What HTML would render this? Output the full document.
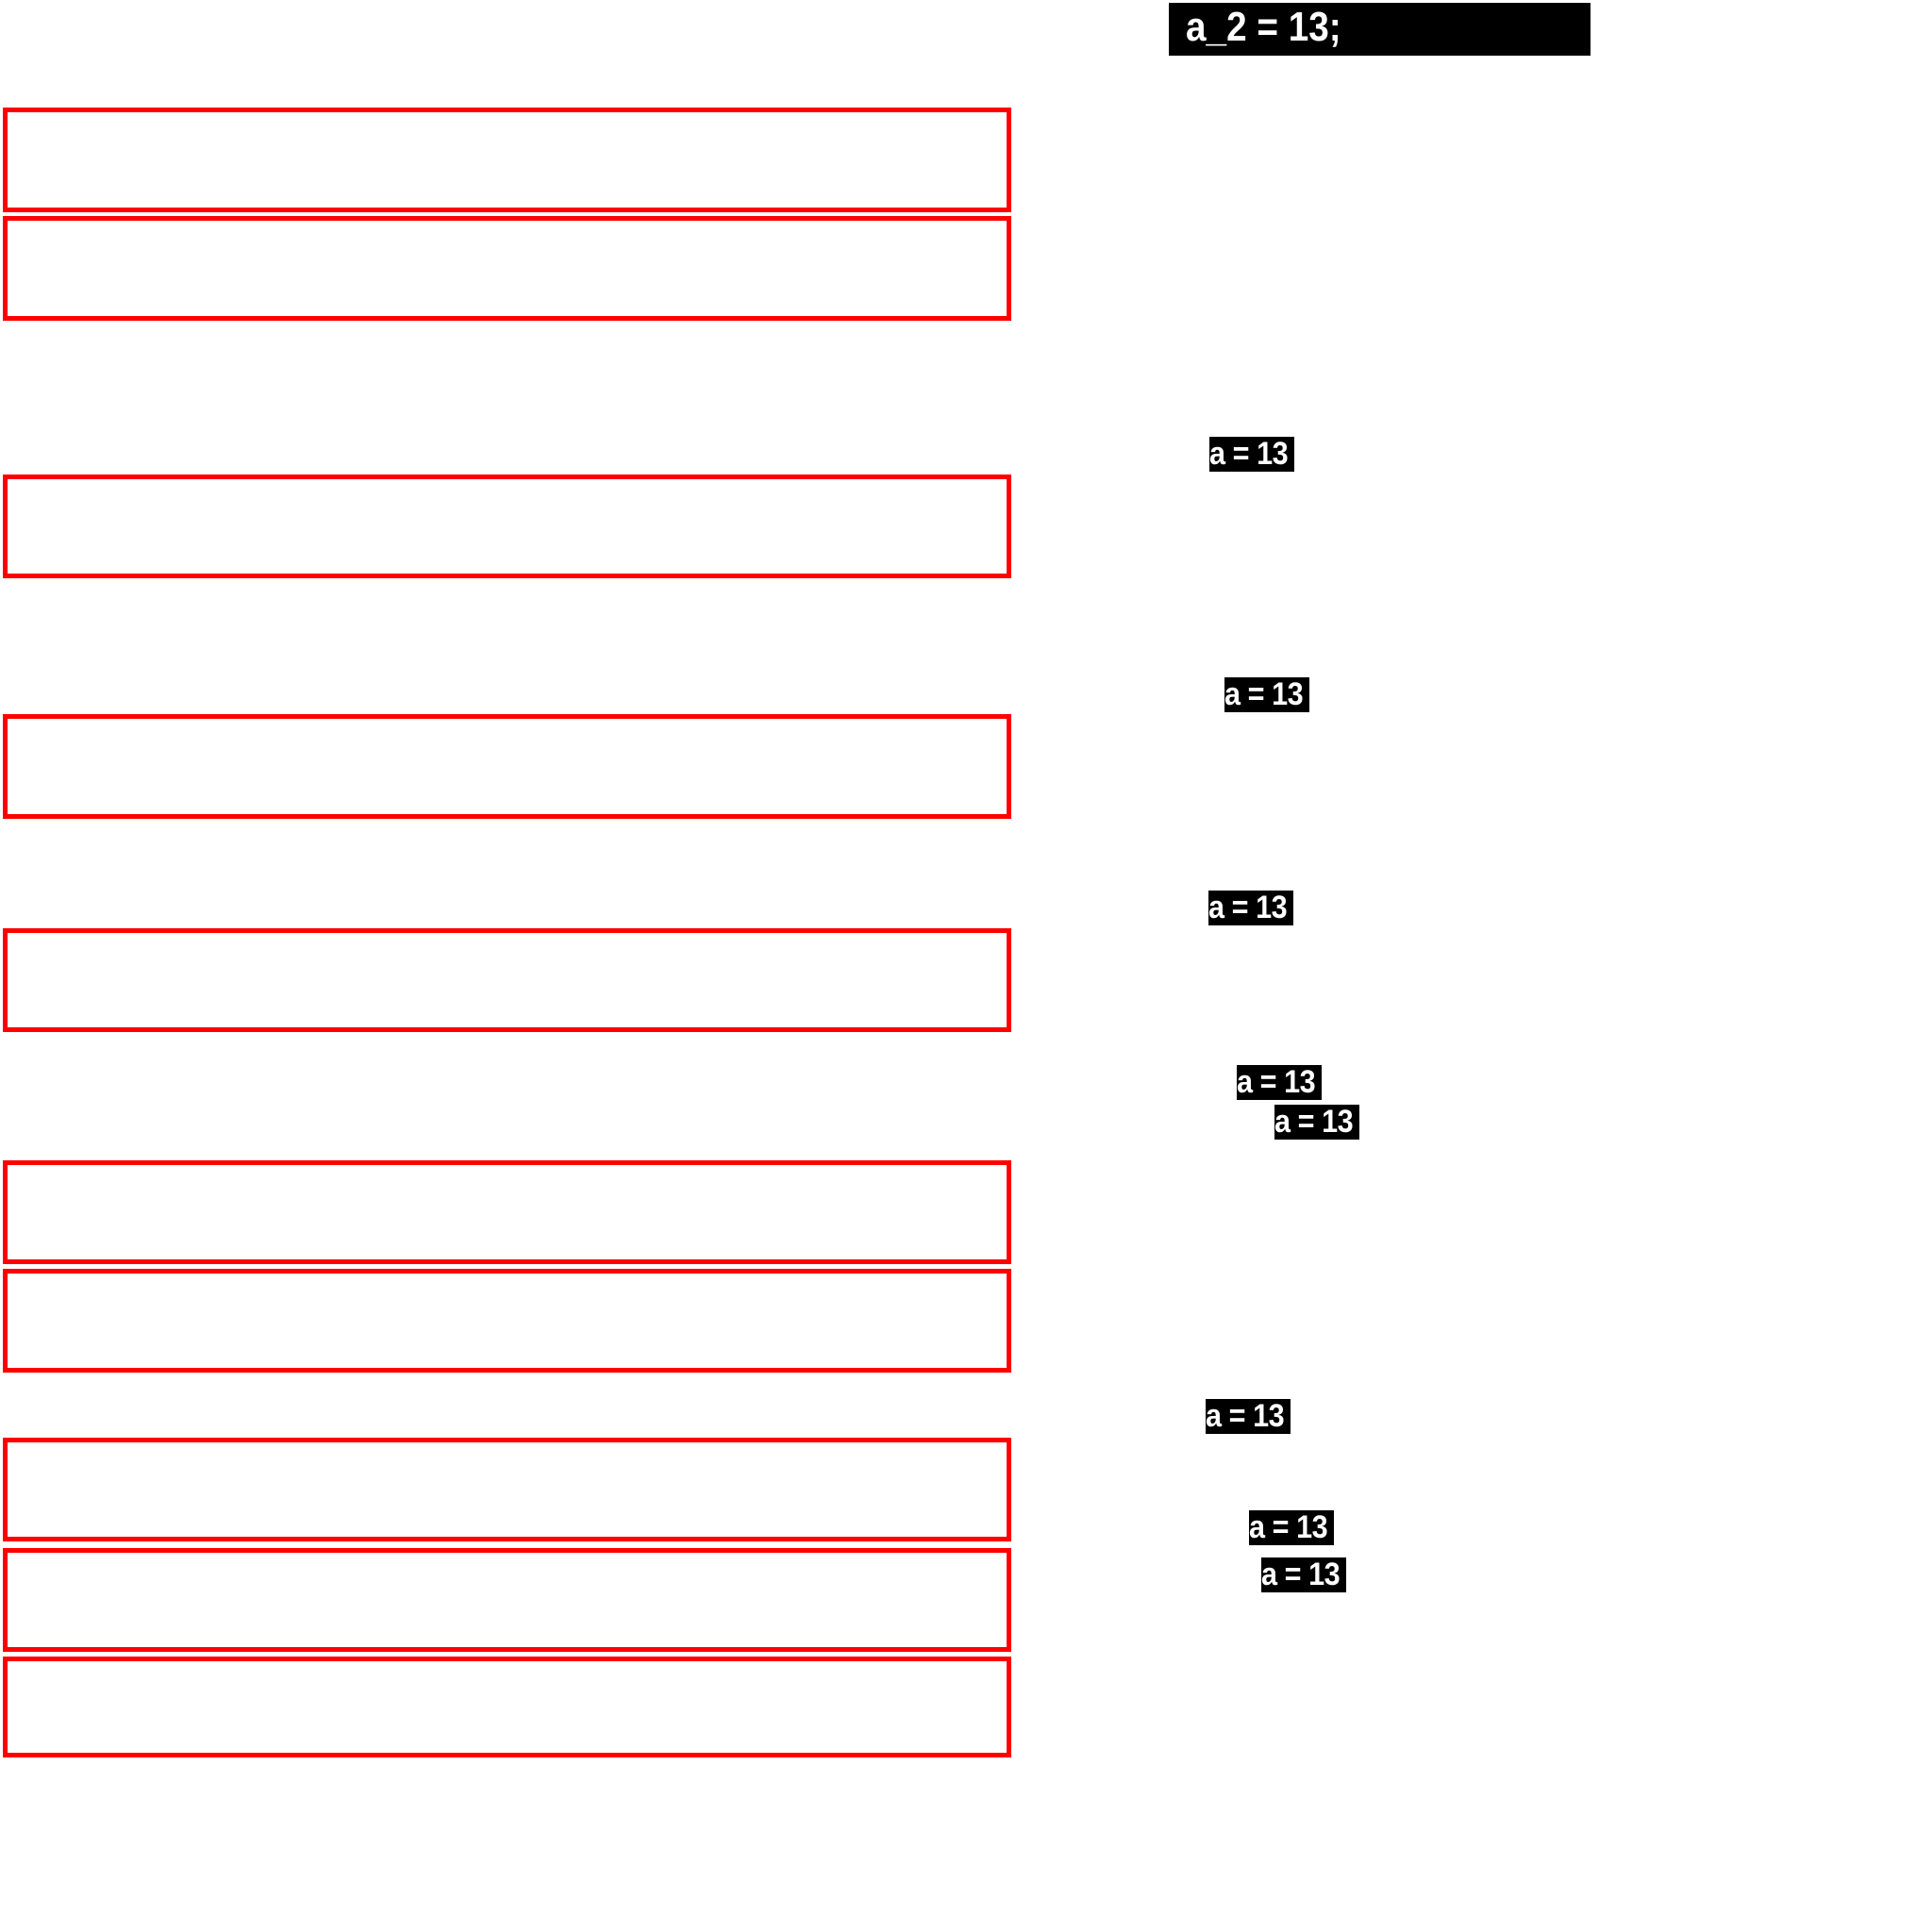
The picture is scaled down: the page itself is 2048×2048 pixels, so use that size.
<!DOCTYPE html>
<html><head><meta charset="utf-8"><style>
html,body{margin:0;padding:0;background:#fff;}
body{width:2048px;height:2048px;position:relative;overflow:hidden;font-family:"Liberation Sans",Arial,sans-serif;}
.rb{position:absolute;left:3px;width:1059px;border:5px solid #ff0000;}
.lb{position:absolute;background:#000;color:#fff;font-weight:bold;font-size:34px;line-height:37px;height:37px;width:90px;white-space:nowrap;overflow:hidden;}
.lb span{display:inline-block;transform:scaleX(0.9);transform-origin:0 0;letter-spacing:-0.5px;}
.big{position:absolute;left:1239px;top:3px;width:447px;height:56px;background:#000;color:#fff;font-weight:bold;font-size:44px;line-height:52px;}
.big span{position:absolute;left:18px;top:0;transform:scaleX(0.88);transform-origin:0 0;white-space:nowrap;}
</style></head><body>
<div class="big"><span>a_2 = 13;</span></div>
<div class="rb" style="top:114px;height:101px"></div>
<div class="rb" style="top:229px;height:101px"></div>
<div class="rb" style="top:503px;height:100px"></div>
<div class="rb" style="top:757px;height:101px"></div>
<div class="rb" style="top:984px;height:100px"></div>
<div class="rb" style="top:1230px;height:100px"></div>
<div class="rb" style="top:1345px;height:100px"></div>
<div class="rb" style="top:1524px;height:100px"></div>
<div class="rb" style="top:1641px;height:100px"></div>
<div class="rb" style="top:1756px;height:97px"></div>
<div class="lb" style="left:1282px;top:463px"><span>a = 13</span></div>
<div class="lb" style="left:1298px;top:718px"><span>a = 13</span></div>
<div class="lb" style="left:1281px;top:944px"><span>a = 13</span></div>
<div class="lb" style="left:1311px;top:1129px"><span>a = 13</span></div>
<div class="lb" style="left:1351px;top:1171px"><span>a = 13</span></div>
<div class="lb" style="left:1278px;top:1483px"><span>a = 13</span></div>
<div class="lb" style="left:1324px;top:1601px"><span>a = 13</span></div>
<div class="lb" style="left:1337px;top:1651px"><span>a = 13</span></div>
</body></html>
